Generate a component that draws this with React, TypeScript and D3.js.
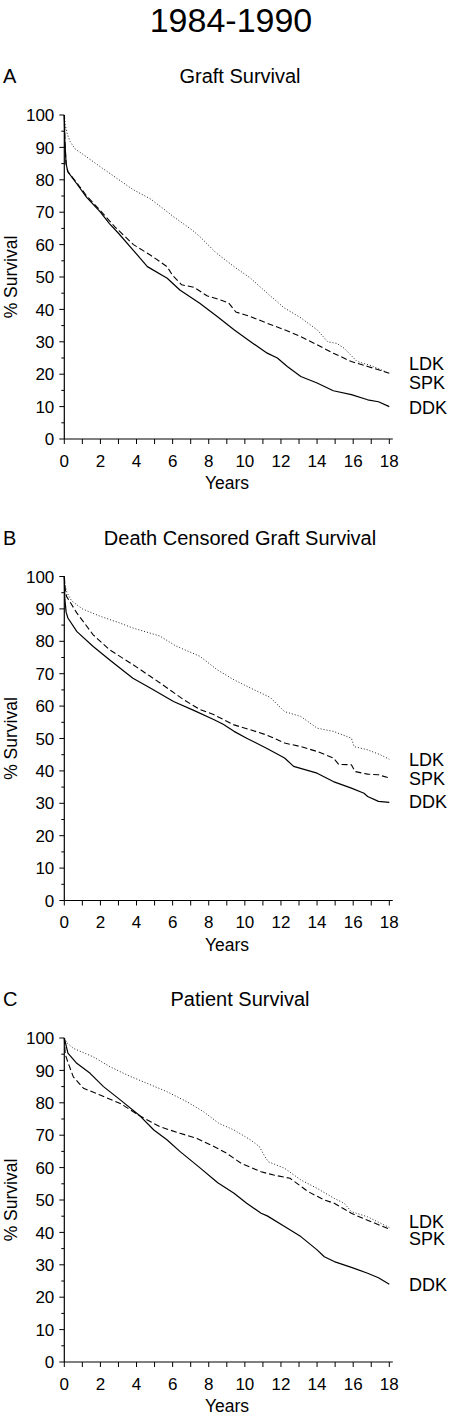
import React from "react";
import * as d3 from "d3";

type Pt = [number, number];

const mainTitle = "1984-1990";
const panelLetters = ["A", "B", "C"];
const panelTitles = ["Graft Survival", "Death Censored Graft Survival", "Patient Survival"];
const seriesNames = ["LDK", "SPK", "DDK"];
const xTicks = d3.range(0, 19, 1);
const xLabelTicks = [0, 2, 4, 6, 8, 10, 12, 14, 16, 18];
const yTicks = d3.range(0, 101, 5);
const yLabelTicks = [0, 10, 20, 30, 40, 50, 60, 70, 80, 90, 100];

// Panel A: Graft Survival
const graftLDK: Pt[] = [[0,100],[0.05,97],[0.15,94.5],[0.3,92],[0.6,89.5],[1,88],[1.5,86],[2,84],[2.9,80.5],[3.8,77],[4.8,74],[5.5,71],[6.05,68.6],[7.08,64.5],[7.5,62.5],[8.4,57.5],[9.4,53.2],[10.3,49.7],[11.24,45],[12.17,40.5],[13.1,37.4],[14,33.7],[14.6,30],[15.1,29.5],[15.5,28],[16.2,24],[17,22.6],[18,20.3]];
const graftSPK: Pt[] = [[0,100],[0.03,92],[0.1,85],[0.2,82.5],[0.7,79],[1.24,75],[2,70.5],[2.8,65.5],[3.83,60],[4.76,56.8],[5.69,53.2],[6.0,50.5],[6.5,47.6],[7.2,46.8],[7.9,44.2],[8.6,43],[9.1,42],[9.5,39.2],[10.3,37.8],[11.2,35.8],[12.2,33.7],[13.1,31.6],[14,29.1],[14.9,26.5],[15.9,23.9],[16.8,22.4],[18,20.3]];
const graftDDK: Pt[] = [[0,100],[0.03,92],[0.1,85],[0.19,82.5],[0.7,78.7],[1.24,74.6],[2,70],[2.5,66.5],[3,63.5],[3.8,58.4],[4.6,53.2],[5.7,49.6],[6.4,46],[7.5,41.9],[8.47,37.8],[9.4,33.7],[10.3,30.1],[11.24,26.5],[11.8,25],[12.35,22.4],[13.1,19.3],[14,17.3],[14.9,14.9],[15.9,13.7],[16.8,12.1],[17.4,11.5],[18,10]];

// Panel B: Death Censored Graft Survival
const dcgsLDK: Pt[] = [[0,100],[0.05,97],[0.15,95],[0.4,92.5],[1,90],[2,87.7],[3,85.8],[3.8,84.1],[5.3,81.6],[6.2,78.5],[7.5,75.4],[8.47,71.2],[9.4,68.1],[10.3,65.6],[11.4,62.7],[12.2,58.3],[13.1,56.8],[14,53.2],[14.9,52.2],[15.9,50.1],[16.05,47.5],[16.8,46.5],[17.5,45],[18,43.6]];
const dcgsSPK: Pt[] = [[0,100],[0.05,96],[0.13,93.8],[0.7,88.7],[1.6,82],[2.5,77.4],[3.8,72.8],[4.76,69.2],[5.7,65.6],[6.6,62],[7.5,59],[8.3,57.3],[9.4,54.2],[10.3,52.7],[11.2,51.1],[12.2,48.6],[13.1,47.5],[14,46],[14.9,44],[15.2,42],[15.9,41.9],[16.1,39.8],[16.8,39],[17.4,38.8],[18,37.8]];
const dcgsDDK: Pt[] = [[0,100],[0.03,93],[0.1,89],[0.2,87.2],[0.7,83],[1.6,78.4],[2.5,74.3],[3.8,68.6],[4.76,65.6],[6.05,61.4],[7.2,58.6],[8.3,55.8],[8.8,54.4],[9.4,52.2],[10.1,50.1],[11.2,47],[12.2,44],[12.7,41.4],[14,39.3],[14.9,36.7],[15.9,34.7],[16.6,33.1],[16.8,32.1],[17.4,30.6],[18,30.3]];

// Panel C: Patient Survival
const patLDK: Pt[] = [[0,100],[0.15,98.5],[0.5,96.8],[1.6,94.2],[2.54,91.1],[3.47,88.6],[4.58,86],[5.7,83.4],[6.8,80.3],[7.7,77.3],[8.55,73.7],[9.4,71.6],[10.3,68.6],[10.8,66.5],[11.1,63.5],[11.3,61.8],[12.2,59.8],[13.1,56.2],[14,53.6],[14.95,50.5],[15.5,49],[15.9,46.4],[16.8,44.8],[18,41.5]];
const patSPK: Pt[] = [[0,100],[0.05,95],[0.22,92.2],[0.5,88],[1.06,84.5],[1.98,82.4],[3.1,79.8],[4.2,75.9],[5.3,72.6],[6.4,70.6],[7.35,69],[8.47,66],[9.0,64.4],[9.8,61.3],[10.9,58.7],[11.6,57.7],[12.5,56.7],[13.5,52.6],[14.4,50],[14.95,49],[15.9,45.9],[16.4,44.7],[17,43.3],[18,41]];
const patDDK: Pt[] = [[0,100],[0.2,95.3],[0.69,92.2],[1.43,89.1],[2.17,85],[3.1,80.9],[4.2,75.9],[4.96,71.6],[5.7,68.5],[6.4,65],[7.5,60],[8.5,55.3],[9.4,52.1],[10.1,49],[10.9,45.9],[11.24,45.1],[12.2,41.8],[13.1,38.7],[14,34.6],[14.4,32.5],[14.95,31],[15.9,29.2],[16.8,27.4],[17.4,26],[18,24]];

// label anchor values (survival units) for LDK, SPK, DDK in each panel
const labelValsA = [23.2, 17.5, 9.7];
const labelValsB = [43.6, 37.8, 30.4];
const labelValsC = [43.5, 38.1, 23.8];

const panels = [
  { series: [graftLDK, graftSPK, graftDDK], labels: labelValsA },
  { series: [dcgsLDK, dcgsSPK, dcgsDDK], labels: labelValsB },
  { series: [patLDK, patSPK, patDDK], labels: labelValsC },
];

const FONT = "'Liberation Sans', Arial, Helvetica, sans-serif";
const W = 450;
const H = 1417;
const X0 = 64.3;
const PW = 325;
const PH = 324;
const TOP0 = 115;
const PANEL_STEP = 461.5;

const styles = [
  { dash: "1,2", width: 1, color: "#222" },
  { dash: "6,3", width: 1.1, color: "#000" },
  { dash: "none", width: 1.2, color: "#000" },
];

function Panel({ idx }: { idx: number }) {
  const top = TOP0 + idx * PANEL_STEP;
  const x = d3.scaleLinear().domain([0, 18]).range([X0, X0 + PW]);
  const y = d3.scaleLinear().domain([0, 100]).range([top + PH, top]);
  const line = d3.line<Pt>().x((d) => x(d[0])).y((d) => y(d[1])).curve(d3.curveLinear);
  const p = panels[idx];
  const y0 = y(0);
  return (
    <g>
      <text x={3} y={top - 32} fontSize={20} fontFamily={FONT}>{panelLetters[idx]}</text>
      <text x={240} y={top - 32} fontSize={20} fontFamily={FONT} textAnchor="middle">{panelTitles[idx]}</text>
      {/* y axis */}
      <line x1={X0} x2={X0} y1={y(100)} y2={y0} stroke="#000" strokeWidth={1.2} />
      {yTicks.map((t) => (
        <line key={"yt" + t} x1={X0 - (t % 10 === 0 ? 5 : 3)} x2={X0} y1={y(t)} y2={y(t)} stroke="#000" strokeWidth={1} />
      ))}
      {yLabelTicks.map((t) => (
        <text key={"yl" + t} x={X0 - 10} y={y(t)} dy="0.36em" fontSize={17} fontFamily={FONT} textAnchor="end">{t}</text>
      ))}
      {/* x axis */}
      <line x1={X0} x2={X0 + PW + 3.5} y1={y0} y2={y0} stroke="#000" strokeWidth={1.2} />
      {xTicks.map((t) => (
        <line key={"xt" + t} x1={x(t)} x2={x(t)} y1={y0} y2={y0 + 5} stroke="#000" strokeWidth={1} />
      ))}
      {xLabelTicks.map((t) => (
        <text key={"xl" + t} x={x(t)} y={y0 + 27.5} fontSize={17} fontFamily={FONT} textAnchor="middle">{t}</text>
      ))}
      <text x={227} y={y0 + 50} fontSize={17.5} fontFamily={FONT} textAnchor="middle">Years</text>
      <text transform={`translate(16.5,${(y(100) + y0) / 2}) rotate(-90)`} fontSize={17.5} fontFamily={FONT} textAnchor="middle">% Survival</text>
      {p.series.map((s, i) => (
        <path key={"s" + i} d={line(s) || ""} fill="none" stroke={styles[i].color} strokeWidth={styles[i].width}
          strokeDasharray={styles[i].dash} strokeLinejoin="round" />
      ))}
      {seriesNames.map((n, i) => (
        <text key={"lab" + n} x={409} y={y(p.labels[i])} dy="0.36em" fontSize={18} fontFamily={FONT}>{n}</text>
      ))}
    </g>
  );
}

export default function App() {
  return (
    <div style={{ position: "absolute", left: 0, top: 0, background: "#fff" }}>
      <svg width={W} height={H} style={{ display: "block" }}>
        <rect width={W} height={H} fill="#fff" />
        <text x={231} y={32} fontSize={34} fontFamily={FONT} textAnchor="middle">{mainTitle}</text>
        {[0, 1, 2].map((i) => <Panel key={i} idx={i} />)}
      </svg>
    </div>
  );
}
